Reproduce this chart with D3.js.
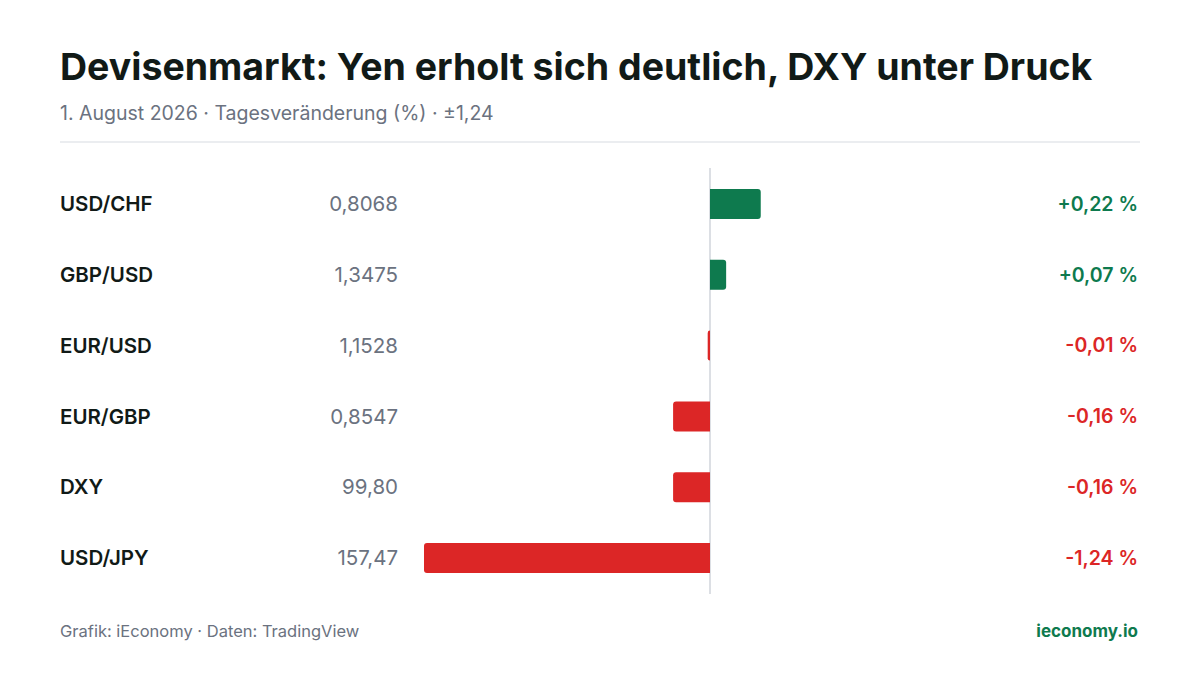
<!DOCTYPE html>
<html><head><meta charset="utf-8">
<script src="https://cdn.jsdelivr.net/npm/d3@7"></script>
<style>body{margin:0;background:#fff}svg{font-family:Inter,sans-serif}</style>
</head><body><svg id="c" width="1200" height="675"></svg>
<script>
const pairs=["USD/CHF","GBP/USD","EUR/USD","EUR/GBP","DXY","USD/JPY"];
const prices=["0,8068","1,3475","1,1528","0,8547","99,80","157,47"];
const changes=[0.22,0.07,-0.01,-0.16,-0.16,-1.24];
const svg=d3.select("#c");
const green="#0e7a4e",red="#dc2626";
svg.append("text").attr("x",60).attr("y",80).attr("font-size",37.5).attr("font-weight",700).attr("fill","#111a17").text("Devisenmarkt: Yen erholt sich deutlich, DXY unter Druck");
svg.append("text").attr("x",60).attr("y",120).attr("font-size",19.5).attr("fill","#6b7280").text("1. August 2026 · Tagesveränderung (%) · ±1,24");
svg.append("line").attr("x1",60).attr("x2",1140).attr("y1",142).attr("y2",142).attr("stroke","#e5e7eb").attr("stroke-width",1.5);
const x=d3.scaleLinear().domain([-1.24,0]).range([424,710]);
const y=d3.scalePoint().domain(pairs).range([204,558]);
svg.append("line").attr("x1",x(0)).attr("x2",x(0)).attr("y1",168).attr("y2",594).attr("stroke","#d1d5db").attr("stroke-width",1.5);
const r=3;
pairs.forEach((p,i)=>{
  const v=changes[i],c=v>=0?green:red,cy=y(p),h=30,t=cy-h/2;
  const x0=x(0),x1=x(v);
  const w=Math.abs(x1-x0);
  const rr=Math.min(r,w);
  let d;
  if(v>=0) d=`M${x0},${t}H${x1-rr}Q${x1},${t} ${x1},${t+rr}V${t+h-rr}Q${x1},${t+h} ${x1-rr},${t+h}H${x0}Z`;
  else d=`M${x0},${t}H${x1+rr}Q${x1},${t} ${x1},${t+rr}V${t+h-rr}Q${x1},${t+h} ${x1+rr},${t+h}H${x0}Z`;
  svg.append("path").attr("d",d).attr("fill",c);
  svg.append("text").attr("x",60).attr("y",cy).attr("dy","0.35em").attr("font-size",20.5).attr("font-weight",600).attr("fill","#111a17").text(p);
  svg.append("text").attr("x",398).attr("y",cy).attr("dy","0.35em").attr("text-anchor","end").attr("font-size",20.5).attr("fill","#6b7280").text(prices[i]);
  svg.append("text").attr("x",1138).attr("y",cy).attr("dy","0.35em").attr("text-anchor","end").attr("font-size",19.5).attr("font-weight",600).attr("fill",c)
    .text((v>=0?"+":"-")+Math.abs(v).toFixed(2).replace(".",",")+" %");
});
svg.append("text").attr("x",60).attr("y",637).attr("font-size",16.5).attr("fill","#6b7280").text("Grafik: iEconomy · Daten: TradingView");
svg.append("text").attr("x",1138).attr("y",637).attr("text-anchor","end").attr("font-size",17).attr("font-weight",700).attr("fill",green).text("ieconomy.io");
</script></body></html>
